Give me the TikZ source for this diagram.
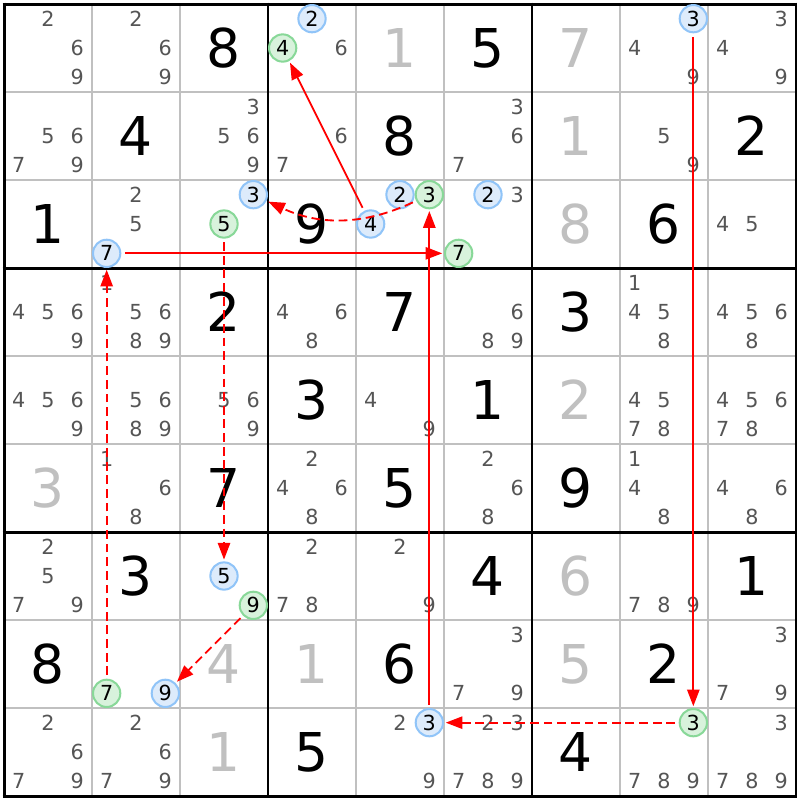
\documentclass[tikz,border=0pt]{standalone}
\usepackage{fontspec}
\setmainfont{DejaVu Sans}
\usetikzlibrary{arrows.meta}
\definecolor{candgray}{HTML}{555555}
\definecolor{solvedgray}{HTML}{C0C0C0}
\definecolor{gridgray}{HTML}{C0C0C0}
\definecolor{bluefill}{HTML}{DDEBFB}
\definecolor{bluedraw}{HTML}{90C4F8}
\definecolor{greenfill}{HTML}{D8F2DC}
\definecolor{greendraw}{HTML}{88D898}
\begin{document}
\begin{tikzpicture}[x=1cm,y=-1cm,
  given/.style={font=\fontsize{17.3}{18}\selectfont,inner sep=0pt},
  solved/.style={given,text=solvedgray},
  cand/.style={font=\fontsize{6.7}{7}\selectfont,text=candgray,inner sep=0pt},
  bluecand/.style={circle,draw=bluedraw,fill=bluefill,line width=0.023cm,minimum size=0.31cm,inner sep=0pt,font=\fontsize{6.7}{7}\selectfont},
  greencand/.style={bluecand,draw=greendraw,fill=greenfill},
  stronglink/.style={red,line width=0.021cm,-{Triangle[length=0.19cm,width=0.14cm]},shorten <=0.04cm,shorten >=0.02cm},
  weaklink/.style={stronglink,dash pattern=on 0.1cm off 0.055cm}]
\fill[white] (-0.0455,-0.0455) rectangle (9.0455,9.0455);
\useasboundingbox (-0.0455,-0.0455) rectangle (9.0455,9.0455);

% grid
\foreach \i in {1,2,4,5,7,8} {
  \draw[gridgray,line width=0.017cm] (\i,0)--(\i,9);
  \draw[gridgray,line width=0.017cm] (0,\i)--(9,\i);
}
\foreach \i in {0,3,6,9} {
  \draw[line width=0.034cm] (\i,-0.017)--(\i,9.017);
  \draw[line width=0.034cm] (-0.017,\i)--(9.017,\i);
}

% givens and solved cells
\foreach \r/\c/\v in {1/3/8,1/6/5,2/2/4,2/5/8,2/9/2,3/1/1,3/4/9,3/8/6,4/3/2,4/5/7,4/7/3,
  5/4/3,5/6/1,6/3/7,6/5/5,6/7/9,7/2/3,7/6/4,7/9/1,8/1/8,8/5/6,8/8/2,9/4/5,9/7/4}
  \node[given] (g\r\c) at (\c-0.5,\r-0.5) {\v};
\foreach \r/\c/\v in {1/5/1,1/7/7,2/7/1,3/7/8,5/7/2,6/1/3,7/7/6,8/3/4,8/4/1,8/7/5,9/3/1}
  \node[solved] (g\r\c) at (\c-0.5,\r-0.5) {\v};

% candidates
\foreach \r/\c/\L in {1/1/{2,6,9},1/2/{2,6,9},1/4/{6},1/8/{4,9},1/9/{3,4,9},
  2/1/{5,6,7,9},2/3/{3,5,6,9},2/4/{6,7},2/6/{3,6,7},2/8/{5,9},
  3/2/{2,5},3/6/{3},3/9/{4,5},
  4/1/{4,5,6,9},4/2/{1,5,6,8,9},4/4/{4,6,8},4/6/{6,8,9},4/8/{1,4,5,8},4/9/{4,5,6,8},
  5/1/{4,5,6,9},5/2/{5,6,8,9},5/3/{5,6,9},5/5/{4,9},5/8/{4,5,7,8},5/9/{4,5,6,7,8},
  6/2/{1,6,8},6/4/{2,4,6,8},6/6/{2,6,8},6/8/{1,4,8},6/9/{4,6,8},
  7/1/{2,5,7,9},7/4/{2,7,8},7/5/{2,9},7/8/{7,8,9},
  8/6/{3,7,9},8/9/{3,7,9},
  9/1/{2,6,7,9},9/2/{2,6,7,9},9/5/{2,9},9/6/{2,3,7,8,9},9/8/{7,8,9},9/9/{3,7,8,9}}
  \foreach \d in \L {
    \pgfmathsetmacro\cx{\c-1+(mod(\d-1,3)+0.5)/3}
    \pgfmathsetmacro\cy{\r-1+(floor((\d-1)/3)+0.5)/3}
    \node[cand] (c\r\c-\d) at (\cx,\cy) {\d};
  }

% marked candidates
\foreach \r/\c/\d in {1/4/2,1/8/3,3/2/7,3/3/3,3/5/2,3/5/4,3/6/2,7/3/5,8/2/9,9/5/3} {
  \pgfmathsetmacro\cx{\c-1+(mod(\d-1,3)+0.5)/3}
  \pgfmathsetmacro\cy{\r-1+(floor((\d-1)/3)+0.5)/3}
  \node[bluecand] (c\r\c-\d) at (\cx,\cy) {\d};
}
\foreach \r/\c/\d in {1/4/4,3/3/5,3/5/3,3/6/7,7/3/9,8/2/7,9/8/3} {
  \pgfmathsetmacro\cx{\c-1+(mod(\d-1,3)+0.5)/3}
  \pgfmathsetmacro\cy{\r-1+(floor((\d-1)/3)+0.5)/3}
  \node[greencand] (c\r\c-\d) at (\cx,\cy) {\d};
}

% links
\draw[stronglink] (c32-7)--(c36-7);
\draw[weaklink] (c82-7)--(c32-7);
\draw[weaklink] (c33-5)--(c73-5);
\draw[weaklink] (c73-9)--(c82-9);
\draw[stronglink] (c35-4)--(c14-4);
\draw[weaklink] (c35-3) to[bend left=25] (c33-3);
\draw[stronglink] (c95-3)--(c35-3);
\draw[stronglink] (c18-3)--(c98-3);
\draw[weaklink] (c98-3)--(c95-3);
\end{tikzpicture}
\end{document}
